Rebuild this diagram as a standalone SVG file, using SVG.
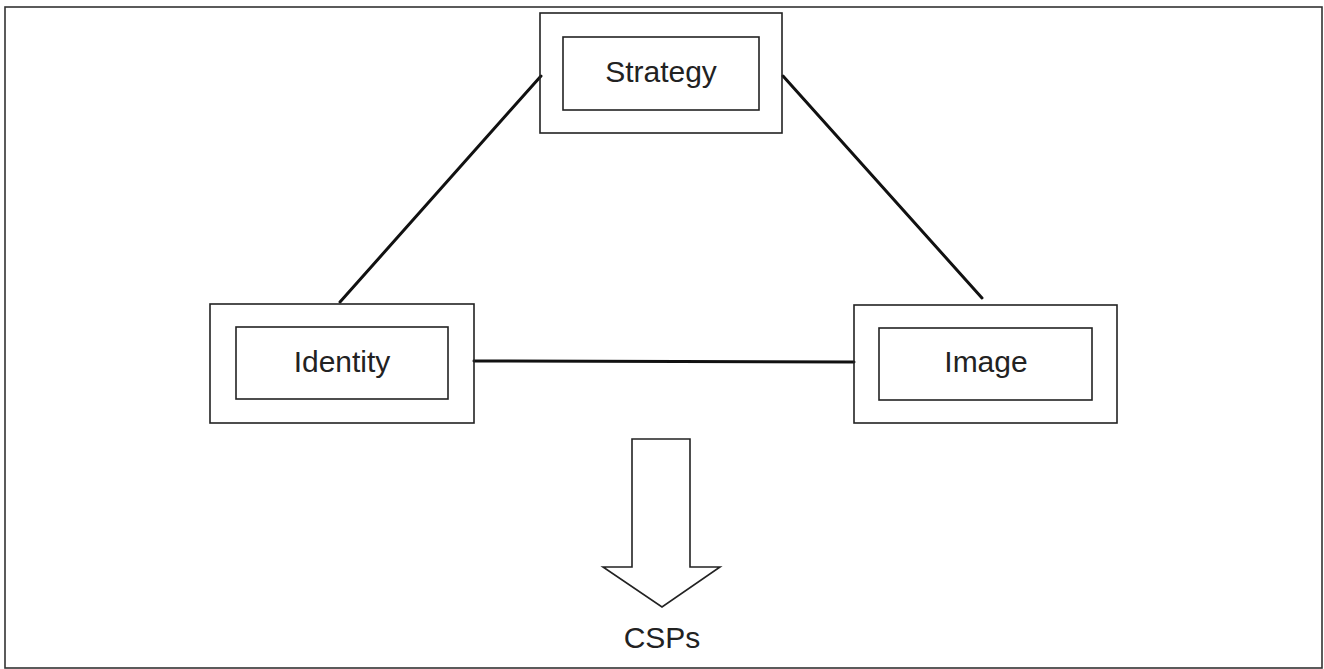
<svg xmlns="http://www.w3.org/2000/svg" width="1324" height="669" viewBox="0 0 1324 669">
  <style>
    .frame { fill: none; stroke: #333; stroke-width: 1.6; }
    .box { fill: none; stroke: #222; stroke-width: 1.6; }
    .link { stroke: #111; stroke-width: 3; stroke-linecap: round; }
    .label { font-family: "Liberation Sans", Arial, sans-serif; font-size: 30px; fill: #222; text-anchor: middle; }
  </style>
  <rect width="1324" height="669" fill="#fff"/>
  <rect class="frame" x="5" y="7" width="1317" height="661"/>

  <g id="connectors">
    <line class="link" x1="541" y1="76" x2="340" y2="302"/>
    <line class="link" x1="783" y1="76" x2="982" y2="298"/>
    <line class="link" x1="474" y1="361" x2="854" y2="362"/>
  </g>

  <g id="strategy">
    <rect class="box" x="540" y="13" width="242" height="120"/>
    <rect class="box" x="563" y="37" width="196" height="73"/>
    <text class="label" x="661" y="82">Strategy</text>
  </g>

  <g id="identity">
    <rect class="box" x="210" y="304" width="264" height="119"/>
    <rect class="box" x="236" y="327" width="212" height="72"/>
    <text class="label" x="342" y="372">Identity</text>
  </g>

  <g id="image">
    <rect class="box" x="854" y="305" width="263" height="118"/>
    <rect class="box" x="879" y="328" width="213" height="72"/>
    <text class="label" x="986" y="372">Image</text>
  </g>

  <g id="csps">
    <path class="box" d="M632,439 H690 V567 H720 L662,607 L603,567 H632 Z" fill="#fff"/>
    <text class="label" x="662" y="648">CSPs</text>
  </g>
</svg>
